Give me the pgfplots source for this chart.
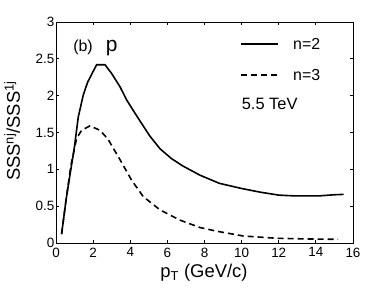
\documentclass[border=0pt]{standalone}
\usepackage{pgfplots}
\pgfplotsset{compat=1.18}
\usepackage{fontspec}
\setmainfont{Liberation Sans}
\begin{document}
\begin{tikzpicture}
\useasboundingbox (-56bp,-51bp) rectangle (334bp,243bp);
\begin{axis}[
  scale only axis,
  width=297bp, height=221bp,
  xmin=0, xmax=16, ymin=0, ymax=3,
  xtick={0,2,...,16},
  ytick={0,0.5,1,1.5,2,2.5,3},
  tick align=inside,
  major tick length=3.5bp,
  axis line style={line width=1pt},
  tick style={line width=0.8pt, black},
  /pgf/number format/assume math mode=true,
  tick label style={font=\fontsize{13.5}{13.5}\selectfont},
  xticklabel style={yshift=-3bp, inner sep=1.5bp},
  yticklabel style={inner sep=1.5bp},
  xlabel={p\textsubscript{T} (GeV/c)},
  xlabel style={font=\fontsize{18.5}{18.5}\selectfont, at={(axis description cs:0.498,-0.158)}, anchor=base},
  ylabel={SSS\textsuperscript{nj}/SSS\textsuperscript{1j}},
  ylabel style={font=\fontsize{18.5}{18.5}\selectfont, at={(axis description cs:-0.148,0.507)}, anchor=center},
  clip=false,
]
\addplot[black, line width=1.6pt] coordinates {
(0.3,0.12) (0.55,0.6) (0.8,1.0) (0.97,1.26) (1.2,1.71) (1.47,2.01) (1.7,2.18)
(1.92,2.29) (2.19,2.42) (2.64,2.42) (3.0,2.30) (3.45,2.12) (3.81,1.94)
(4.26,1.76) (4.8,1.55) (5.06,1.45) (5.6,1.28) (6.2,1.15) (6.8,1.05)
(7.76,0.92) (8.8,0.81) (10.0,0.74) (11.0,0.69) (12.0,0.65) (12.8,0.64)
(14.2,0.64) (15.0,0.655) (15.5,0.66)
};
\addplot[black, line width=1.6pt, dash pattern=on 6bp off 4bp] coordinates {
(0.3,0.12) (0.55,0.6) (0.8,1.05) (1.11,1.42) (1.38,1.53) (1.83,1.59)
(2.37,1.53) (2.8,1.41) (3.45,1.13) (4.08,0.85) (4.70,0.63) (5.6,0.45)
(6.68,0.31) (7.76,0.21) (8.66,0.16) (10.09,0.095) (11.9,0.064)
(13.5,0.055) (15.2,0.05)
};
\addplot[black, line width=1.6pt] coordinates {(9.98,2.70) (11.97,2.70)};
\addplot[black, line width=1.6pt, dash pattern=on 6bp off 4bp] coordinates {(9.98,2.28) (11.97,2.28)};
\node[anchor=west, inner sep=0pt, font=\fontsize{16}{16}\selectfont] at (axis cs:12.77,2.70) {n=2};
\node[anchor=west, inner sep=0pt, font=\fontsize{16}{16}\selectfont] at (axis cs:12.77,2.28) {n=3};
\node[anchor=west, inner sep=0pt, font=\fontsize{16.5}{16.5}\selectfont] at (axis cs:10.0,1.89) {5.5 TeV};
\node[anchor=base, inner sep=0pt, font=\fontsize{16}{16}\selectfont] at (axis cs:1.455,2.605) {(b)};
\node[anchor=base, inner sep=0pt, font=\fontsize{21}{21}\selectfont] at (axis cs:3.0,2.605) {p};
\end{axis}
\end{tikzpicture}
\end{document}
